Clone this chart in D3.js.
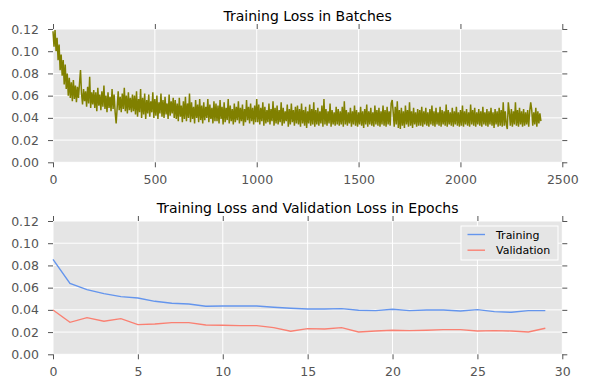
<!DOCTYPE html>
<html>
<head>
<meta charset="utf-8">
<script src="https://cdnjs.cloudflare.com/ajax/libs/d3/7.8.5/d3.min.js"></script>
<style>
  html, body { margin: 0; padding: 0; background: #fff; }
  svg { display: block; font-family: "DejaVu Sans", sans-serif; }
</style>
</head>
<body>
<svg id="chart" width="589" height="390"></svg>
<script>
// ---- data ----
const batchStep = 5; // batch spacing of the sampled batch-loss readings
const batchLoss = [
  0.118,0.104,0.119,0.100,0.112,0.092,0.106,0.083,0.097,0.078,0.092,0.070,0.088,0.066,0.080,0.060,0.076,0.058,0.072,0.055,
  0.074,0.057,0.069,0.054,0.068,0.058,0.071,0.083,0.062,0.052,0.066,0.055,0.064,0.050,0.068,0.053,0.077,0.049,0.063,0.052,
  0.065,0.049,0.063,0.046,0.067,0.051,0.061,0.047,0.064,0.050,0.069,0.048,0.060,0.045,0.063,0.049,0.059,0.046,0.066,0.048,
  0.061,0.045,0.035,0.049,0.064,0.047,0.059,0.045,0.062,0.048,0.067,0.046,0.060,0.044,0.063,0.047,0.058,0.045,0.061,0.046,
  0.060,0.043,0.064,0.041,0.057,0.045,0.066,0.040,0.058,0.043,0.062,0.039,0.056,0.044,0.061,0.041,0.055,0.045,0.063,0.040,
  0.057,0.042,0.060,0.039,0.054,0.044,0.062,0.041,0.056,0.040,0.059,0.043,0.053,0.039,0.061,0.042,0.055,0.044,0.058,0.040,
  0.056,0.039,0.053,0.037,0.058,0.041,0.051,0.036,0.055,0.039,0.059,0.037,0.053,0.040,0.062,0.036,0.054,0.039,0.050,0.035,
  0.056,0.040,0.052,0.036,0.057,0.038,0.051,0.035,0.054,0.038,0.050,0.040,0.057,0.036,0.052,0.039,0.049,0.035,0.055,0.037,
  0.053,0.037,0.051,0.035,0.056,0.039,0.050,0.034,0.054,0.036,0.049,0.038,0.057,0.035,0.051,0.037,0.048,0.034,0.053,0.036,
  0.050,0.038,0.055,0.035,0.049,0.037,0.052,0.033,0.048,0.036,0.056,0.038,0.050,0.035,0.053,0.037,0.049,0.034,0.051,0.036,
  0.057,0.036,0.052,0.034,0.049,0.037,0.054,0.033,0.050,0.035,0.047,0.036,0.053,0.034,0.048,0.037,0.055,0.033,0.049,0.035,
  0.051,0.034,0.047,0.036,0.054,0.033,0.049,0.035,0.046,0.037,0.052,0.032,0.048,0.034,0.053,0.036,0.047,0.033,0.050,0.035,
  0.051,0.034,0.048,0.032,0.053,0.035,0.047,0.033,0.050,0.031,0.046,0.035,0.052,0.033,0.048,0.034,0.054,0.032,0.047,0.034,
  0.049,0.033,0.046,0.035,0.051,0.032,0.057,0.034,0.048,0.033,0.046,0.035,0.053,0.032,0.047,0.034,0.045,0.033,0.050,0.034,
  0.048,0.033,0.046,0.034,0.050,0.032,0.055,0.034,0.047,0.033,0.045,0.035,0.049,0.032,0.046,0.034,0.051,0.033,0.047,0.032,
  0.045,0.034,0.050,0.033,0.046,0.031,0.048,0.034,0.052,0.032,0.046,0.034,0.049,0.033,0.045,0.032,0.051,0.034,0.047,0.033,
  0.049,0.032,0.046,0.034,0.051,0.033,0.047,0.032,0.050,0.034,0.046,0.033,0.053,0.056,0.045,0.032,0.050,0.034,0.055,0.031,
  0.047,0.030,0.049,0.033,0.046,0.031,0.051,0.034,0.047,0.032,0.054,0.033,0.046,0.031,0.049,0.034,0.045,0.032,0.048,0.033,
  0.047,0.033,0.050,0.032,0.046,0.034,0.049,0.033,0.045,0.032,0.048,0.034,0.051,0.033,0.046,0.032,0.049,0.034,0.045,0.033,
  0.050,0.032,0.047,0.034,0.046,0.033,0.052,0.032,0.047,0.034,0.045,0.033,0.049,0.032,0.046,0.034,0.050,0.033,0.045,0.032,
  0.047,0.033,0.051,0.032,0.046,0.034,0.048,0.033,0.045,0.032,0.052,0.034,0.047,0.033,0.049,0.032,0.045,0.034,0.048,0.033,
  0.046,0.032,0.050,0.034,0.045,0.033,0.048,0.032,0.046,0.034,0.049,0.033,0.045,0.031,0.048,0.034,0.046,0.032,0.049,0.033,
  0.047,0.032,0.054,0.033,0.046,0.034,0.030,0.054,0.045,0.033,0.048,0.032,0.046,0.034,0.054,0.033,0.047,0.032,0.049,0.034,
  0.046,0.032,0.048,0.033,0.045,0.034,0.047,0.032,0.046,0.054,0.047,0.033,0.045,0.034,0.049,0.032,0.046,0.035,0.044,0.037
];
const epochs = d3.range(30);
const trainLoss = [0.0855,0.0639,0.0582,0.0546,0.0519,0.0507,0.0477,0.0459,0.0453,0.0432,
                   0.0435,0.0435,0.0435,0.0423,0.0414,0.0408,0.0408,0.0411,0.0396,0.0393,
                   0.0405,0.0393,0.0399,0.0399,0.0390,0.0402,0.0384,0.0378,0.0393,0.0393];
const valLoss   = [0.0399,0.0288,0.0330,0.0297,0.0321,0.0267,0.0273,0.0285,0.0285,0.0264,
                   0.0261,0.0258,0.0258,0.0240,0.0207,0.0231,0.0228,0.0240,0.0201,0.0210,
                   0.0216,0.0213,0.0216,0.0222,0.0222,0.0210,0.0213,0.0210,0.0201,0.0234];
const yTicks = [0, 0.02, 0.04, 0.06, 0.08, 0.10, 0.12];
const xTicksBatch = [0, 500, 1000, 1500, 2000, 2500];
const xTicksEpoch = [0, 5, 10, 15, 20, 25, 30];
const titles = ["Training Loss in Batches", "Training Loss and Validation Loss in Epochs"];
const legendLabels = ["Training", "Validation"];

// ---- drawing ----
const svg = d3.select("#chart");
const L = 53, R = 562.3;

function panel(top, bottom, xDomain, xTicks, title) {
  const x = d3.scaleLinear().domain(xDomain).range([L, R]);
  const y = d3.scaleLinear().domain([0, 0.12]).range([bottom, top]);
  const g = svg.append("g");
  g.append("rect").attr("x", L).attr("y", top).attr("width", R - L).attr("height", bottom - top).attr("fill", "#e5e5e5");
  g.append("g").selectAll("line").data(xTicks).join("line")
    .attr("x1", d => x(d)).attr("x2", d => x(d)).attr("y1", top).attr("y2", bottom)
    .attr("stroke", "#fff").attr("stroke-width", 1);
  g.append("g").selectAll("line").data(yTicks).join("line")
    .attr("y1", d => y(d)).attr("y2", d => y(d)).attr("x1", L).attr("x2", R)
    .attr("stroke", "#fff").attr("stroke-width", 1);
  const fmtY = d3.format(".2f");
  const styleAxis = sel => {
    sel.select(".domain").remove();
    sel.selectAll(".tick line").attr("stroke", "#555").attr("stroke-width", 1);
    sel.selectAll(".tick text").attr("fill", "#555").attr("font-size", "12.5px")
      .attr("font-family", "DejaVu Sans, sans-serif");
  };
  g.append("g").attr("transform", `translate(${L},0)`)
    .call(d3.axisLeft(y).tickValues(yTicks).tickFormat(fmtY).tickSize(5).tickPadding(9)).call(styleAxis);
  g.append("g").attr("transform", `translate(${R},0)`)
    .call(d3.axisRight(y).tickValues(yTicks).tickFormat("").tickSize(5)).call(styleAxis);
  g.append("g").attr("transform", `translate(0,${bottom})`)
    .call(d3.axisBottom(x).tickValues(xTicks).tickFormat(d3.format("d")).tickSize(5).tickPadding(8)).call(styleAxis);
  g.append("g").attr("transform", `translate(0,${top})`)
    .call(d3.axisTop(x).tickValues(xTicks).tickFormat("").tickSize(5)).call(styleAxis);
  g.append("text").attr("x", (L + R) / 2).attr("y", top - 8).attr("text-anchor", "middle")
    .attr("font-size", "14px").attr("fill", "#000").text(title);
  return {x, y, g};
}

// top panel
const p1 = panel(29, 162.3, [0, 2500], xTicksBatch, titles[0]);
p1.g.append("path").datum(batchLoss)
  .attr("fill", "none").attr("stroke", "#808000").attr("stroke-width", 1.5)
  .attr("d", d3.line().x((d, i) => p1.x(i * batchStep)).y(d => p1.y(d)));

// bottom panel
const p2 = panel(221, 354.3, [0, 30], xTicksEpoch, titles[1]);
const line2 = d3.line().x((d, i) => p2.x(epochs[i])).y(d => p2.y(d));
p2.g.append("path").datum(trainLoss).attr("fill", "none").attr("stroke", "#6495ED").attr("stroke-width", 1.4).attr("d", line2);
p2.g.append("path").datum(valLoss).attr("fill", "none").attr("stroke", "#FA8072").attr("stroke-width", 1.4).attr("d", line2);

// legend
const lg = p2.g.append("g");
lg.append("rect").attr("x", 461).attr("y", 226).attr("width", 97).attr("height", 34)
  .attr("fill", "#e5e5e5").attr("stroke", "#fff").attr("stroke-width", 1);
const colors = ["#6495ED", "#FA8072"];
legendLabels.forEach((lab, i) => {
  const yy = 234.5 + i * 15.7;
  lg.append("line").attr("x1", 467.5).attr("x2", 485).attr("y1", yy).attr("y2", yy)
    .attr("stroke", colors[i]).attr("stroke-width", 1.4);
  lg.append("text").attr("x", 496).attr("y", yy + 4).attr("font-size", "11px").attr("fill", "#000").text(lab);
});
</script>
</body>
</html>
